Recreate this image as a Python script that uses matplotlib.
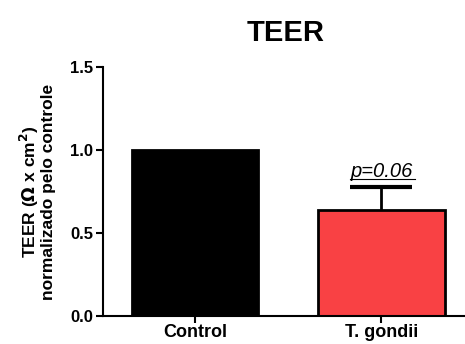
import matplotlib
matplotlib.use("Agg")
import matplotlib.pyplot as plt

plt.rcParams['font.family'] = ['Liberation Sans', 'DejaVu Sans']

groups = ['Control', 'T. gondii']
means = [1.0, 0.64]
sem = [0.0, 0.135]
colors = ['#000000', '#f94144']
p_text = 'p=0.06'

fig = plt.figure(figsize=(4.65, 3.44), dpi=100)
ax = fig.add_axes([0.2215, 0.0814, 0.7785, 0.7236])

x = [0, 1]
ax.bar(x, means, width=0.68, color=colors, edgecolor='black', linewidth=2, zorder=2)
# symmetric error bar drawn behind the bar so only the upper half shows
ax.errorbar(x[1], means[1], yerr=sem[1], fmt='none', ecolor='black',
            elinewidth=2, capsize=22, capthick=3, zorder=1)

# p value label with underline
top = means[1] + sem[1]
ax.text(x[1], top + 0.065, p_text, ha='center', va='baseline', fontsize=14.5, style='italic')
ax.plot([x[1] - 0.17, x[1] + 0.18], [top + 0.05, top + 0.05], color='black', lw=0.8)

ax.set_xlim(-0.495, 1.45)
ax.set_ylim(0, 1.5)
ax.set_yticks([0.0, 0.5, 1.0, 1.5])
ax.set_yticklabels(['0.0', '0.5', '1.0', '1.5'], fontweight='bold', fontsize=12)
ax.set_xticks(x)
ax.set_xticklabels(groups, fontweight='bold', fontsize=13)
ax.tick_params(axis='both', width=1.5, length=5, direction='out')
ax.tick_params(axis='x', pad=1)
ax.tick_params(axis='y', pad=2)

for s in ['top', 'right']:
    ax.spines[s].set_visible(False)
for s in ['left', 'bottom']:
    ax.spines[s].set_linewidth(1.5)

ax.set_ylabel('TEER ($\\mathbf{\\Omega}$ x cm$^\\mathbf{2}$)\nnormalizado pelo controle',
              fontweight='bold', fontsize=12.5, linespacing=1.0, labelpad=10)
fig.text(0.615, 0.905, 'TEER', ha='center', va='center', fontsize=21, fontweight='bold')

fig.savefig('out.png', dpi=100)
